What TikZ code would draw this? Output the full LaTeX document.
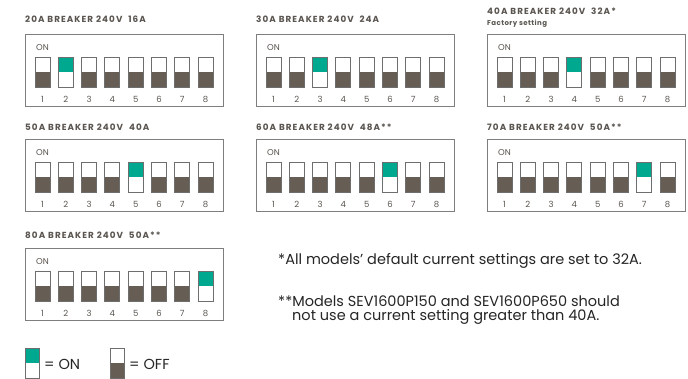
\documentclass[tikz,border=0pt]{standalone}
\usepackage{fontspec}
\setmainfont{Poppins}
\newfontfamily\ttlfont[LetterSpace=12]{Poppins}
\newfontfamily\factfont[LetterSpace=6]{Poppins}
\definecolor{dk}{HTML}{665D55}
\definecolor{gr}{HTML}{00A88F}
\definecolor{tx}{HTML}{5A5550}
\definecolor{bx}{HTML}{7E7E7E}
\definecolor{sw}{HTML}{6E6E6E}
\tikzset{
  title/.style={anchor=west, inner sep=0pt, text=tx, font=\ttlfont\fontsize{8.8}{10}\selectfont\bfseries},
  fact/.style={anchor=west, inner sep=0pt, text=tx, font=\factfont\fontsize{7}{8}\selectfont\bfseries},
  boxst/.style={draw=bx, line width=0.9pt},
  onlbl/.style={anchor=west, inner sep=0pt, text=tx, font=\fontsize{8.5}{9}\selectfont},
  digit/.style={inner sep=0pt, text=tx, font=\fontsize{8.5}{9}\selectfont},
  swst/.style={draw=sw, line width=0.9pt},
  note/.style={anchor=west, inner sep=0pt, text=black!85, font=\fontsize{14.5}{16}\selectfont},
}
\newcommand\dippanel[4]{% #1 x, #2 box top, #3 on index, #4 name
  \draw[boxst] (#1,#2) rectangle ++(198,72);
  \node[onlbl] (#4on) at (#1+11,#2+14) {ON};
  \foreach \i in {1,...,8} {
    \pgfmathsetmacro\xx{#1+10+(\i-1)*23.3}
    \ifnum\i=#3\relax
      \fill[gr] (\xx,#2+23) rectangle ++(15,15);
    \else
      \fill[dk] (\xx,#2+38) rectangle ++(15,15);
    \fi
    \draw[swst] (\xx,#2+23) rectangle ++(15,30);
    \node[digit] (#4d\i) at (\xx+7.5,#2+65) {\i};
  }
}
\begin{document}
\begin{tikzpicture}[x=1pt,y=-1pt]
\useasboundingbox[fill=white] (0,0) rectangle (688,378);
% row 1
\node[title] (t1) at (25,19) {20A BREAKER 240V\ \ 16A};
\dippanel{25}{34}{2}{p1}
\node[title] (t2) at (256,19) {30A BREAKER 240V\ \ 24A};
\dippanel{256}{34}{3}{p2}
\node[title] (t3) at (487,11) {40A BREAKER 240V\ \ 32A*};
\node[fact] (t3f) at (487,24) {Factory setting};
\dippanel{487}{34}{4}{p3}
% row 2
\node[title] (t4) at (25,127) {50A BREAKER 240V\ \ 40A};
\dippanel{25}{139}{5}{p4}
\node[title] (t5) at (256,127) {60A BREAKER 240V\ \ 48A**};
\dippanel{256}{139}{6}{p5}
\node[title] (t6) at (487,127) {70A BREAKER 240V\ \ 50A**};
\dippanel{487}{139}{7}{p6}
% row 3
\node[title] (t7) at (25,235) {80A BREAKER 240V\ \ 50A**};
\dippanel{25}{248}{8}{p7}
% notes
\node[note] (n1) at (278,261) {*All models’ default current settings are set to 32A.};
\node[note] (n2) at (278,301) {**Models SEV1600P150 and SEV1600P650 should};
\node[note] (n3) at (292,317) {not use a current setting greater than 40A.};
% legend
\fill[gr] (25,348) rectangle (39,363);
\draw[swst] (25,348) rectangle (39,378);
\node[note] (lon) at (44,364) {= ON};
\fill[dk] (110,363) rectangle (124,378);
\draw[swst] (110,348) rectangle (124,378);
\node[note] (loff) at (129,364) {= OFF};
\end{tikzpicture}
\end{document}
